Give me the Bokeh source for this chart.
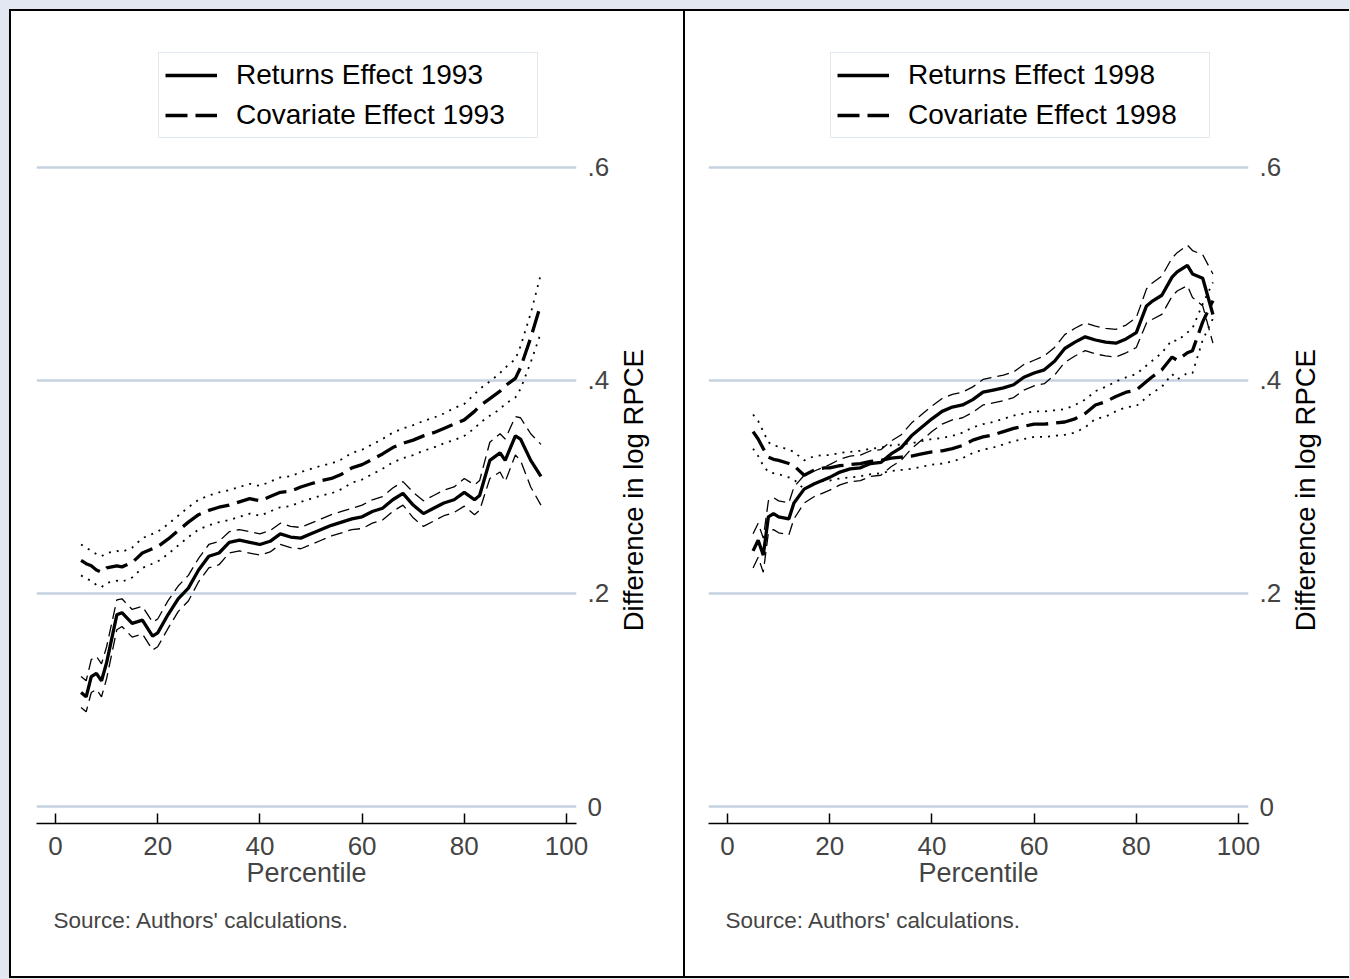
import math
from bokeh.plotting import figure
from bokeh.models import (Range1d, FixedTicker, Legend, LegendItem, Title, Label,
                          ColumnDataSource, GlobalInlineStyleSheet)
from bokeh.layouts import row
from bokeh.embed import file_html
from bokeh.resources import INLINE

# ---------------- data ----------------
percentile = [5, 6, 7, 8, 9, 10, 12, 13, 15, 17, 19, 20, 22, 24, 26, 28, 30, 32, 34, 36,
              38, 40, 42, 44, 46, 48, 50, 52, 54, 56, 58, 60, 62, 64, 66, 68, 70, 72, 74,
              76, 78, 80, 82, 83, 85, 87, 88, 90, 91, 93, 95]

returns_1993 = [0.107, 0.103, 0.122, 0.125, 0.118, 0.135, 0.180, 0.182, 0.172, 0.175, 0.160,
                0.163, 0.180, 0.195, 0.205, 0.222, 0.235, 0.238, 0.248, 0.250, 0.248, 0.246,
                0.249, 0.256, 0.253, 0.252, 0.256, 0.260, 0.264, 0.267, 0.270, 0.272, 0.277,
                0.280, 0.288, 0.294, 0.283, 0.275, 0.280, 0.285, 0.288, 0.295, 0.288, 0.292,
                0.325, 0.332, 0.325, 0.348, 0.345, 0.325, 0.310]
returns_1993_hi = [0.122, 0.118, 0.138, 0.141, 0.134, 0.150, 0.194, 0.195, 0.185, 0.188, 0.173,
                   0.176, 0.193, 0.207, 0.217, 0.233, 0.246, 0.249, 0.258, 0.260, 0.258, 0.256,
                   0.259, 0.266, 0.263, 0.262, 0.266, 0.270, 0.274, 0.277, 0.280, 0.283, 0.288,
                   0.291, 0.299, 0.305, 0.295, 0.287, 0.292, 0.297, 0.300, 0.308, 0.302, 0.306,
                   0.342, 0.350, 0.345, 0.366, 0.365, 0.350, 0.340]
returns_1993_lo = [0.093, 0.089, 0.107, 0.110, 0.103, 0.120, 0.166, 0.169, 0.159, 0.162, 0.147,
                   0.150, 0.167, 0.183, 0.193, 0.211, 0.224, 0.227, 0.238, 0.240, 0.238, 0.236,
                   0.239, 0.246, 0.243, 0.242, 0.246, 0.250, 0.254, 0.257, 0.260, 0.261, 0.266,
                   0.269, 0.277, 0.283, 0.271, 0.263, 0.268, 0.273, 0.276, 0.282, 0.274, 0.278,
                   0.308, 0.314, 0.305, 0.330, 0.325, 0.300, 0.283]

covariate_1993 = [0.231, 0.228, 0.226, 0.222, 0.220, 0.224, 0.226, 0.225, 0.229, 0.238, 0.242,
                  0.244, 0.251, 0.259, 0.267, 0.274, 0.278, 0.281, 0.283, 0.286, 0.289, 0.287,
                  0.291, 0.295, 0.296, 0.300, 0.303, 0.306, 0.308, 0.312, 0.318, 0.321, 0.326,
                  0.331, 0.337, 0.341, 0.344, 0.348, 0.351, 0.355, 0.359, 0.363, 0.371, 0.376,
                  0.383, 0.390, 0.395, 0.402, 0.412, 0.440, 0.472]
covariate_1993_hi = [0.246, 0.243, 0.240, 0.237, 0.235, 0.238, 0.240, 0.239, 0.243, 0.252, 0.256,
                     0.258, 0.265, 0.273, 0.281, 0.288, 0.292, 0.295, 0.297, 0.300, 0.303, 0.301,
                     0.305, 0.309, 0.310, 0.314, 0.317, 0.320, 0.322, 0.326, 0.332, 0.335, 0.340,
                     0.345, 0.351, 0.355, 0.358, 0.362, 0.365, 0.369, 0.374, 0.378, 0.387, 0.392,
                     0.399, 0.407, 0.412, 0.420, 0.432, 0.463, 0.500]
covariate_1993_lo = [0.217, 0.214, 0.212, 0.208, 0.206, 0.210, 0.212, 0.211, 0.215, 0.224, 0.228,
                     0.230, 0.237, 0.245, 0.253, 0.260, 0.264, 0.267, 0.269, 0.272, 0.275, 0.273,
                     0.277, 0.281, 0.282, 0.286, 0.289, 0.292, 0.294, 0.298, 0.304, 0.307, 0.312,
                     0.317, 0.323, 0.327, 0.330, 0.334, 0.337, 0.341, 0.344, 0.348, 0.355, 0.360,
                     0.367, 0.373, 0.378, 0.384, 0.392, 0.417, 0.445]

returns_1998 = [0.240, 0.250, 0.236, 0.272, 0.275, 0.272, 0.270, 0.285, 0.298, 0.303, 0.307,
                0.309, 0.314, 0.317, 0.318, 0.322, 0.323, 0.331, 0.337, 0.348, 0.356, 0.364,
                0.371, 0.375, 0.377, 0.382, 0.389, 0.391, 0.393, 0.396, 0.403, 0.407, 0.410,
                0.418, 0.430, 0.436, 0.441, 0.438, 0.436, 0.435, 0.439, 0.445, 0.470, 0.474,
                0.480, 0.497, 0.502, 0.508, 0.500, 0.496, 0.462]
returns_1998_hi = [0.256, 0.266, 0.252, 0.287, 0.290, 0.287, 0.285, 0.300, 0.311, 0.315, 0.319,
                   0.321, 0.326, 0.329, 0.330, 0.334, 0.335, 0.343, 0.349, 0.360, 0.368, 0.376,
                   0.383, 0.387, 0.389, 0.394, 0.401, 0.403, 0.405, 0.408, 0.415, 0.419, 0.423,
                   0.431, 0.443, 0.449, 0.454, 0.451, 0.449, 0.448, 0.452, 0.459, 0.486, 0.491,
                   0.498, 0.515, 0.520, 0.527, 0.522, 0.518, 0.500]
returns_1998_lo = [0.224, 0.234, 0.220, 0.257, 0.260, 0.257, 0.255, 0.270, 0.285, 0.291, 0.295,
                   0.297, 0.302, 0.305, 0.306, 0.310, 0.311, 0.319, 0.325, 0.336, 0.344, 0.352,
                   0.359, 0.363, 0.365, 0.370, 0.377, 0.379, 0.381, 0.384, 0.391, 0.395, 0.397,
                   0.405, 0.417, 0.423, 0.428, 0.425, 0.423, 0.422, 0.426, 0.431, 0.454, 0.457,
                   0.462, 0.479, 0.484, 0.489, 0.478, 0.470, 0.435]

covariate_1998 = [0.352, 0.345, 0.336, 0.328, 0.326, 0.325, 0.322, 0.320, 0.311, 0.316, 0.318,
                  0.318, 0.320, 0.321, 0.322, 0.324, 0.325, 0.327, 0.328, 0.329, 0.331, 0.333,
                  0.334, 0.336, 0.339, 0.344, 0.347, 0.349, 0.352, 0.355, 0.357, 0.359, 0.359,
                  0.360, 0.361, 0.364, 0.369, 0.377, 0.380, 0.385, 0.389, 0.391, 0.399, 0.403,
                  0.410, 0.422, 0.419, 0.426, 0.428, 0.455, 0.475]
covariate_1998_hi = [0.368, 0.362, 0.352, 0.342, 0.339, 0.338, 0.335, 0.333, 0.325, 0.329, 0.330,
                     0.330, 0.332, 0.333, 0.334, 0.336, 0.337, 0.339, 0.340, 0.341, 0.343, 0.345,
                     0.346, 0.348, 0.351, 0.356, 0.359, 0.361, 0.364, 0.367, 0.369, 0.371, 0.371,
                     0.372, 0.373, 0.377, 0.382, 0.390, 0.394, 0.399, 0.403, 0.406, 0.414, 0.418,
                     0.426, 0.438, 0.437, 0.445, 0.449, 0.472, 0.492]
covariate_1998_lo = [0.336, 0.329, 0.320, 0.314, 0.313, 0.312, 0.309, 0.307, 0.298, 0.303, 0.306,
                     0.306, 0.308, 0.309, 0.310, 0.312, 0.313, 0.315, 0.316, 0.317, 0.319, 0.321,
                     0.322, 0.324, 0.327, 0.332, 0.335, 0.337, 0.340, 0.343, 0.345, 0.347, 0.347,
                     0.348, 0.349, 0.351, 0.356, 0.364, 0.366, 0.371, 0.375, 0.376, 0.384, 0.388,
                     0.394, 0.406, 0.401, 0.407, 0.407, 0.438, 0.458]

x_ticks = [0, 20, 40, 60, 80, 100]
y_ticks = [0, 0.2, 0.4, 0.6]
y_tick_labels = ["0", ".2", ".4", ".6"]
x_title = "Percentile"
y_title = "Difference in log RPCE"
note = "Source: Authors' calculations."

# ---------------- styling ----------------
FONT = "Liberation Sans"
GRID = "#C6D2DF"
PAGE_BG = "#E2E7F1"
H = 969
MB_TOP = 29
MB_BOTTOM = 157
FRAME_W = 540


def panel(year, ret, ret_lo, ret_hi, cov, cov_lo, cov_hi, width, mb_left, styles):
    p = figure(width=width, height=H,
               x_range=Range1d(-3.72, 101.96), y_range=Range1d(-0.01596, 0.7192),
               output_backend="svg", toolbar_location=None, y_axis_location="right",
               min_border_left=mb_left, min_border_right=width - mb_left - FRAME_W,
               min_border_top=MB_TOP, min_border_bottom=MB_BOTTOM,
               background_fill_color=None, border_fill_color=None,
               outline_line_color=None, styles=styles)
    src = ColumnDataSource(dict(x=percentile, r=ret, rlo=ret_lo, rhi=ret_hi,
                                c=cov, clo=cov_lo, chi=cov_hi))
    for col in ("rhi", "rlo"):
        p.line("x", col, source=src, line_color="black", line_width=1.3, line_dash="12 6")
    for col in ("chi", "clo"):
        p.line("x", col, source=src, line_color="black", line_width=1.8, line_dash="2 6")
    r1 = p.line("x", "r", source=src, line_color="black", line_width=3.3)
    r2 = p.line("x", "c", source=src, line_color="black", line_width=3.3, line_dash="22 8")

    legend = Legend(items=[LegendItem(label=f"Returns Effect {year}", renderers=[r1]),
                           LegendItem(label=f"Covariate Effect {year}", renderers=[r2])],
                    location=(122, 685), orientation="vertical",
                    label_text_font=FONT, label_text_font_size="28px",
                    label_text_color="black",
                    border_line_color=GRID, border_line_width=1.5,
                    background_fill_color="white", background_fill_alpha=1.0,
                    padding=6, spacing=8, glyph_width=52, label_standoff=19,
                    label_width=295, margin=0)
    p.add_layout(legend)

    xa = p.xaxis[0]
    xa.ticker = FixedTicker(ticks=x_ticks)
    xa.axis_label = x_title
    xa.axis_label_text_font = FONT
    xa.axis_label_text_font_size = "27px"
    xa.axis_label_text_font_style = "normal"
    xa.axis_label_standoff = 0
    xa.major_label_text_font = FONT
    xa.major_label_text_font_size = "26px"
    xa.major_label_standoff = 13
    xa.major_tick_in = 10
    xa.major_tick_out = 0
    xa.minor_tick_in = 0
    xa.minor_tick_out = 0
    xa.axis_line_width = 1.5
    xa.major_tick_line_width = 1.5
    p.xgrid.visible = False

    ya = p.yaxis[0]
    ya.ticker = FixedTicker(ticks=y_ticks)
    ya.major_label_overrides = {t: s for t, s in zip(y_ticks, y_tick_labels)}
    ya.major_label_text_font = FONT
    ya.major_label_text_font_size = "26px"
    ya.major_label_standoff = 5
    ya.axis_line_color = None
    ya.major_tick_line_color = None
    ya.minor_tick_line_color = None
    p.ygrid.ticker = FixedTicker(ticks=y_ticks)
    p.ygrid.grid_line_color = GRID
    p.ygrid.grid_line_width = 2.5

    # y-axis title, reading bottom to top, in the right side panel (not clipped)
    p.add_layout(Label(x=113.1, y=0.297, x_units="data", y_units="data",
                       text=y_title, angle=math.pi / 2, angle_units="rad",
                       text_font=FONT, text_font_size="27.5px", text_color="black",
                       text_align="center", text_baseline="middle"), "right")

    t = Title(text=note, text_font=FONT, text_font_size="22.5px",
              text_font_style="normal", align="left", offset=17)
    if "standoff" in t.properties():
        t.standoff = 31
    p.add_layout(t, "below")
    return p


p1 = panel("1993", returns_1993, returns_1993_lo, returns_1993_hi,
           covariate_1993, covariate_1993_lo, covariate_1993_hi,
           width=676, mb_left=25,
           styles={"border": "2px solid black", "background-color": "white"})
p2 = panel("1998", returns_1998, returns_1998_lo, returns_1998_hi,
           covariate_1998, covariate_1998_lo, covariate_1998_hi,
           width=664, mb_left=23,
           styles={"border-top": "2px solid black", "border-bottom": "2px solid black",
                   "background-color": "white"})

layout = row(p1, p2, spacing=0,
             stylesheets=[GlobalInlineStyleSheet(
                 css=f"body {{ background-color: {PAGE_BG}; padding: 9px 0 0 9px; }}")])

open("out.html", "w").write(file_html(layout, INLINE))
